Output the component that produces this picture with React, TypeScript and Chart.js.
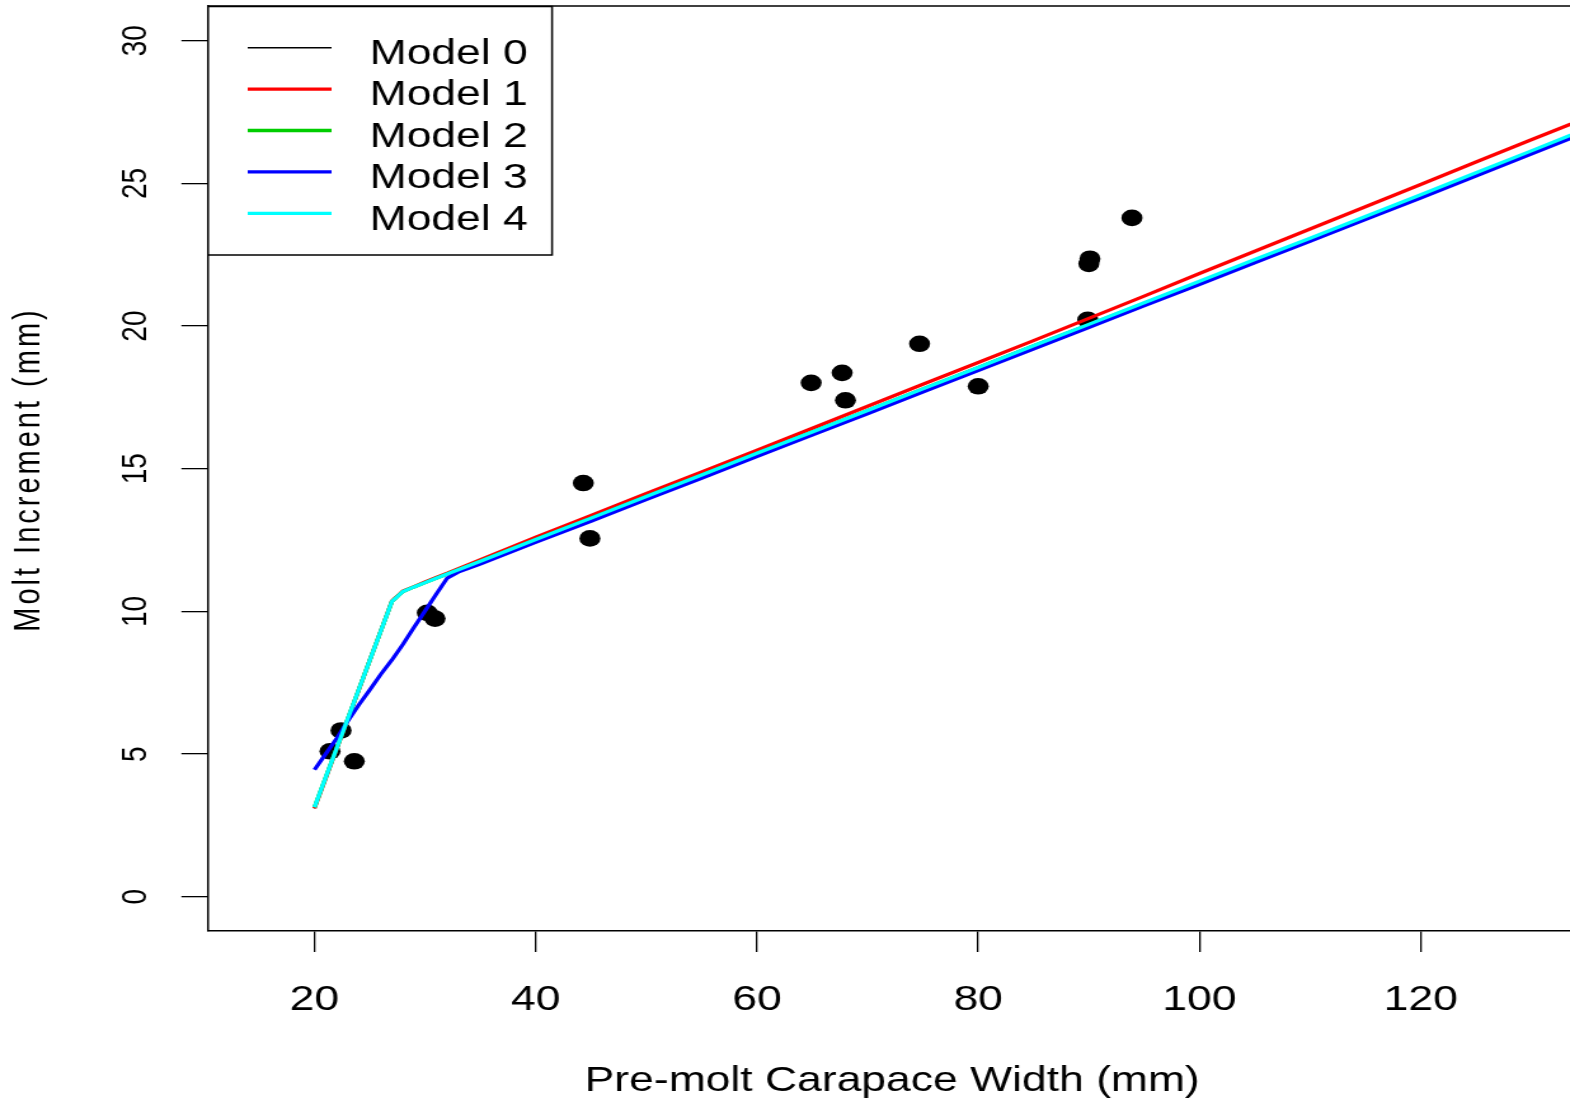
import { useEffect, useRef } from "react";
import { Chart, registerables } from "chart.js";

Chart.register(...registerables);

// ---------- data ----------
const X_GRID = [20, 21, 22, 23, 24, 25, 26, 27, 28, 29, 30, 31, 32, 33, 35, 40, 45, 50, 55, 60, 65, 70, 75, 80, 85, 90, 95, 100, 105, 110, 115, 120, 125, 130, 135];

const MODEL_0 = [3.10, 4.14, 5.18, 6.21, 7.25, 8.29, 9.32, 10.36, 10.71, 10.87, 11.03, 11.19, 11.34, 11.50, 11.81, 12.60, 13.36, 14.13, 14.89, 15.65, 16.42, 17.19, 17.96, 18.72, 19.49, 20.27, 21.05, 21.84, 22.62, 23.40, 24.18, 24.96, 25.75, 26.53, 27.30];
const MODEL_1 = [3.10, 4.14, 5.18, 6.21, 7.25, 8.29, 9.32, 10.36, 10.71, 10.87, 11.03, 11.19, 11.34, 11.50, 11.81, 12.60, 13.36, 14.13, 14.89, 15.65, 16.42, 17.19, 17.96, 18.72, 19.49, 20.27, 21.05, 21.84, 22.62, 23.40, 24.18, 24.96, 25.75, 26.53, 27.30];
const MODEL_2 = [3.14, 4.17, 5.20, 6.23, 7.26, 8.29, 9.32, 10.35, 10.70, 10.86, 11.01, 11.16, 11.31, 11.46, 11.76, 12.52, 13.27, 14.03, 14.78, 15.54, 16.29, 17.04, 17.80, 18.55, 19.31, 20.05, 20.80, 21.54, 22.30, 23.05, 23.80, 24.56, 25.33, 26.09, 26.86];
const MODEL_3 = [4.45, 5.00, 5.55, 6.15, 6.72, 7.25, 7.80, 8.30, 8.85, 9.45, 10.02, 10.60, 11.17, 11.38, 11.66, 12.42, 13.16, 13.92, 14.67, 15.43, 16.18, 16.93, 17.69, 18.44, 19.20, 19.95, 20.71, 21.46, 22.22, 22.97, 23.73, 24.49, 25.26, 26.03, 26.80];
const MODEL_4 = [3.14, 4.17, 5.20, 6.23, 7.26, 8.29, 9.32, 10.35, 10.70, 10.86, 11.01, 11.16, 11.31, 11.46, 11.76, 12.52, 13.27, 14.03, 14.78, 15.54, 16.29, 17.04, 17.80, 18.55, 19.31, 20.06, 20.82, 21.57, 22.33, 23.08, 23.84, 24.60, 25.37, 26.14, 26.91];

const MODEL_NAMES = ["Model 0", "Model 1", "Model 2", "Model 3", "Model 4"];
const MODEL_COLORS = ["#000000", "#FF0000", "#00CD00", "#0000FF", "#00FFFF"];
const MODEL_WIDTHS = [1.5, 3.3, 3.3, 3.3, 3.3];
const MODEL_VALUES = [MODEL_0, MODEL_1, MODEL_2, MODEL_3, MODEL_4];

const OBS_X = [21.4, 22.4, 23.6, 30.2, 30.9, 44.3, 44.9, 64.9, 67.7, 68.0, 74.7, 80.0, 89.9, 90.0, 90.1, 93.9];
const OBS_Y = [5.10, 5.83, 4.75, 9.95, 9.75, 14.50, 12.56, 18.01, 18.36, 17.40, 19.38, 17.89, 20.22, 22.18, 22.36, 23.79];

const X_TICKS = [20, 40, 60, 80, 100, 120];
const Y_TICKS = [0, 5, 10, 15, 20, 25, 30];

const X_TITLE = "Pre-molt Carapace Width (mm)";
const Y_TITLE = "Molt Increment (mm)";

// ---------- drawing setup ----------
const FONT = '"Liberation Sans", Arial, Helvetica, sans-serif';
const CANVAS_W = 1236;
const CANVAS_H = 1102;

const rStylePlugin = {
  id: "rStyle",
  afterDraw(chart: any) {
    const ctx = chart.ctx as CanvasRenderingContext2D;
    const { left, right, top, bottom } = chart.chartArea;
    ctx.save();
    // top border of the plot box
    ctx.strokeStyle = "#000";
    ctx.lineWidth = 1.5;
    ctx.beginPath();
    ctx.moveTo(left, top);
    ctx.lineTo(right, top);
    ctx.stroke();

    // rotated y tick labels
    const ys = chart.scales.y;
    ctx.fillStyle = "#000";
    ctx.font = `28px ${FONT}`;
    ctx.textAlign = "center";
    ctx.textBaseline = "alphabetic";
    ys.ticks.forEach((t: any) => {
      const py = ys.getPixelForValue(t.value);
      ctx.save();
      ctx.translate(left - 49.3, py);
      ctx.rotate(-Math.PI / 2);
      ctx.fillText(String(t.value), 0, 0);
      ctx.restore();
    });

    // y axis title
    ctx.save();
    ctx.font = `29px ${FONT}`;
    (ctx as any).letterSpacing = "3px";
    ctx.translate(30.7, (top + bottom) / 2 + 1);
    ctx.rotate(-Math.PI / 2);
    ctx.fillText(Y_TITLE, 0, 0);
    ctx.restore();

    // x axis title
    ctx.font = `35px ${FONT}`;
    ctx.textAlign = "center";
    ctx.fillText(X_TITLE, (left + right) / 2 + 2.5, 1091);

    // legend (R style, top-left)
    const lx0 = left, ly0 = top + 0.5, lx1 = 434.6, ly1 = 255;
    ctx.fillStyle = "#fff";
    ctx.fillRect(lx0, ly0, lx1 - lx0, ly1 - ly0);
    ctx.strokeStyle = "#000";
    ctx.lineWidth = 1.5;
    ctx.strokeRect(lx0, ly0, lx1 - lx0, ly1 - ly0);
    const models = chart.data.datasets.filter((d: any) => d.isModel);
    models.forEach((d: any, i: number) => {
      const y = 47.7 + i * 41.4;
      ctx.strokeStyle = d.borderColor;
      ctx.lineWidth = d.borderWidth;
      ctx.beginPath();
      ctx.moveTo(195, y);
      ctx.lineTo(261, y);
      ctx.stroke();
      ctx.fillStyle = "#000";
      ctx.font = `35px ${FONT}`;
      ctx.textAlign = "left";
      ctx.fillText(d.label, 291, y + 16.3);
    });
    ctx.restore();
  },
};

export default function App() {
  const ref = useRef<HTMLCanvasElement>(null);

  useEffect(() => {
    const canvas = ref.current;
    if (!canvas) return;
    const points = (ys: number[]) => X_GRID.map((x, i) => ({ x, y: ys[i] }));
    const modelSets = MODEL_NAMES.map((name, i) => ({
      label: name,
      isModel: true,
      data: points(MODEL_VALUES[i]),
      showLine: true,
      borderColor: MODEL_COLORS[i],
      backgroundColor: MODEL_COLORS[i],
      borderWidth: MODEL_WIDTHS[i],
      pointRadius: 0,
      pointHoverRadius: 0,
      tension: 0,
      order: 5 - i,
    }));
    const obsSet = {
      label: "Observed",
      isModel: false,
      data: OBS_X.map((x, i) => ({ x, y: OBS_Y[i] })),
      showLine: false,
      pointRadius: 8.3,
      pointHoverRadius: 8.3,
      pointBackgroundColor: "#000",
      pointBorderColor: "#000",
      pointBorderWidth: 0,
      order: 6,
    };

    const gridOpts = {
      drawOnChartArea: false,
      drawTicks: true,
      tickLength: 21,
      color: "#000",
      lineWidth: 1.3,
    };
    const borderOpts = { display: true, color: "#000", width: 1.5 };

    const chart = new Chart(canvas, {
      type: "scatter",
      data: { datasets: [obsSet, ...modelSets] as any },
      options: {
        animation: false,
        responsive: false,
        devicePixelRatio: 1,
        layout: { autoPadding: false, padding: { top: 6, right: 0, bottom: 0, left: 0 } },
        plugins: {
          legend: { display: false },
          tooltip: { enabled: false },
          title: { display: false },
        },
        events: [],
        scales: {
          x: {
            type: "linear",
            min: 10.38,
            max: 133.5,
            afterBuildTicks: (s: any) => {
              s.ticks = X_TICKS.map((v) => ({ value: v }));
            },
            afterFit: (s: any) => {
              s.height = 171;
            },
            grid: gridOpts,
            border: borderOpts,
            ticks: {
              color: "#000",
              font: { family: FONT, size: 35, lineHeight: 1.2 },
              padding: 27,
              maxRotation: 0,
              minRotation: 0,
              autoSkip: false,
            },
          },
          y: {
            type: "linear",
            min: -1.198,
            max: 31.216,
            afterBuildTicks: (s: any) => {
              s.ticks = Y_TICKS.map((v) => ({ value: v }));
            },
            afterFit: (s: any) => {
              s.width = 163.8;
            },
            grid: gridOpts,
            border: borderOpts,
            ticks: { display: false },
          },
        },
      } as any,
      plugins: [rStylePlugin],
    });
    return () => chart.destroy();
  }, []);

  return (
    <canvas
      ref={ref}
      width={CANVAS_W}
      height={CANVAS_H}
      style={{
        position: "fixed",
        left: 0,
        top: 0,
        width: "1570px",
        height: "1102px",
      }}
    />
  );
}
